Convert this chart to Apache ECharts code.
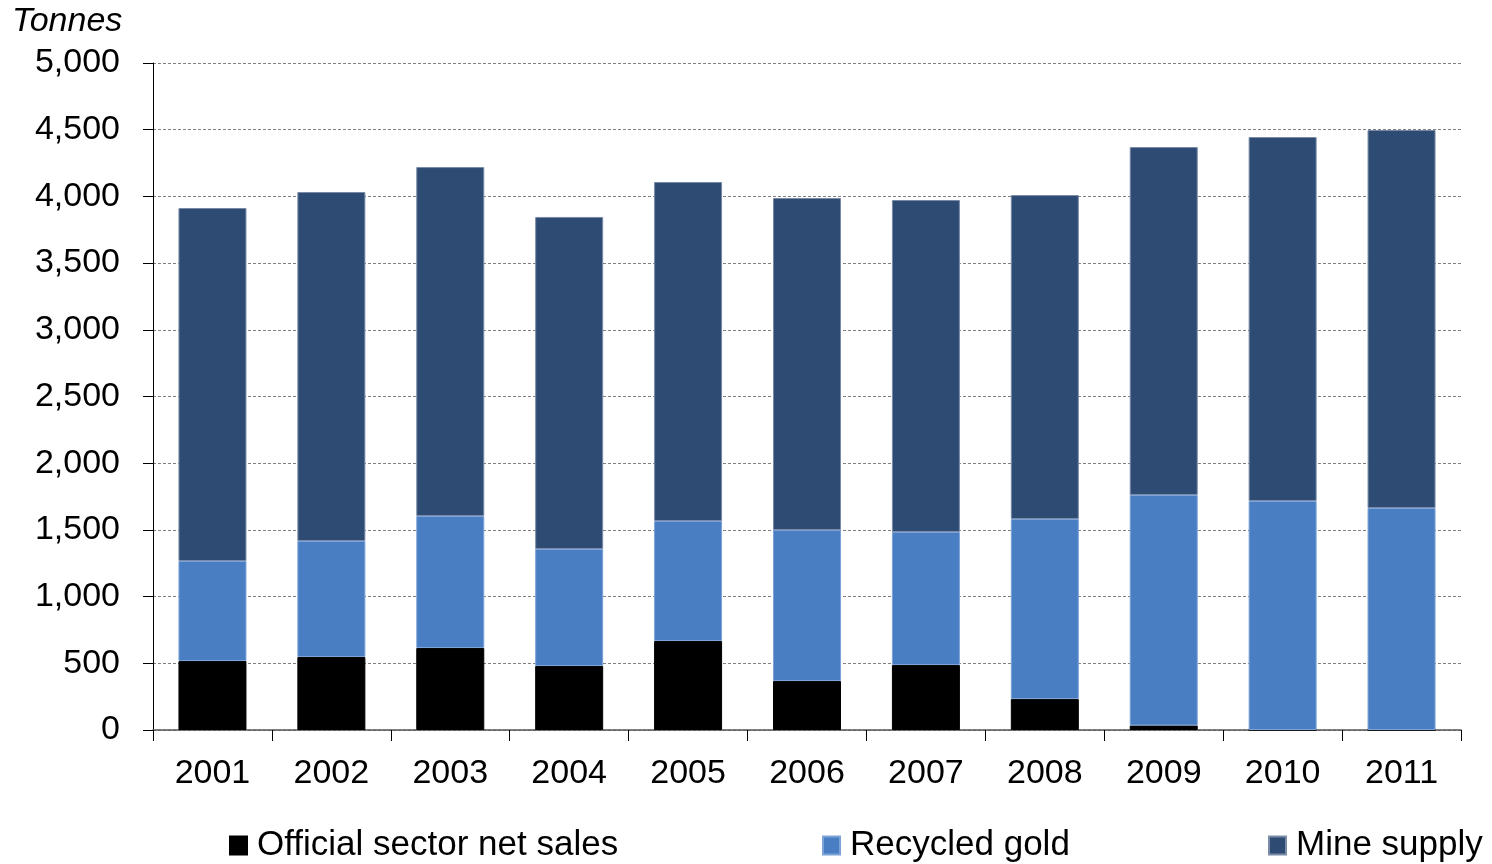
<!DOCTYPE html>
<html>
<head>
<meta charset="utf-8">
<title>Gold supply, 2001–2011</title>
<script src="https://cdn.jsdelivr.net/npm/echarts@6/dist/echarts.min.js"></script>
<style>
  html, body { margin: 0; padding: 0; background: #ffffff; }
  #chart { width: 1492px; height: 864px; }
</style>
</head>
<body>
<div id="chart"></div>
<script>
// Annual gold supply by source, tonnes
const years = ['2001', '2002', '2003', '2004', '2005', '2006', '2007', '2008', '2009', '2010', '2011'];
const officialSales = [517, 547, 615, 480, 667, 367, 487, 232, 34, 0, 0];
const recycledGold = [750, 870, 989, 877, 900, 1132, 997, 1350, 1728, 1717, 1664];
const mineSupply = [2646, 2616, 2616, 2489, 2541, 2489, 2489, 2428, 2608, 2728, 2834];
const yTicks = { min: 0, max: 5000, step: 500 };

const FONT = '"Liberation Sans", Arial, sans-serif';

const chart = echarts.init(document.getElementById('chart'), null, { renderer: 'canvas' });

function legendAt(name, left) {
  return {
    data: [name],
    left: left,
    top: 828,
    padding: 0,
    itemWidth: 17,
    itemHeight: 18,
    itemGap: 0,
    icon: 'rect',
    selectedMode: false,
    textStyle: { fontFamily: FONT, fontSize: 35, color: '#000', padding: [0, 0, 0, 5] }
  };
}

function barSeries(name, data, color, border) {
  return {
    name: name,
    type: 'bar',
    stack: 'supply',
    data: data,
    barWidth: 68,
    itemStyle: { color: color, borderColor: border, borderWidth: 1 },
    emphasis: { disabled: true }
  };
}

chart.setOption({
  animation: false,
  backgroundColor: '#ffffff',
  title: {
    text: 'Tonnes',
    left: 12,
    top: 5,
    padding: 0,
    textStyle: { fontFamily: FONT, fontSize: 34, fontStyle: 'italic', fontWeight: 'normal', color: '#000' }
  },
  legend: [
    legendAt('Official sector net sales', 229),
    legendAt('Recycled gold', 822),
    legendAt('Mine supply', 1268)
  ],
  grid: { left: 153, right: 31, top: 63, bottom: 134, containLabel: false },
  xAxis: {
    type: 'category',
    data: years,
    boundaryGap: true,
    axisLine: { show: true, lineStyle: { color: '#555', width: 1.5 } },
    axisTick: { show: true, length: 11, lineStyle: { color: '#000', width: 1 } },
    axisLabel: { margin: 27, fontFamily: FONT, fontSize: 34, color: '#000' },
    splitLine: { show: false }
  },
  yAxis: {
    type: 'value',
    min: yTicks.min,
    max: yTicks.max,
    interval: yTicks.step,
    axisLine: { show: true, lineStyle: { color: '#000', width: 1 } },
    axisTick: { show: true, length: 10, lineStyle: { color: '#000', width: 1 } },
    axisLabel: {
      margin: 33,
      fontFamily: FONT,
      fontSize: 34,
      color: '#000',
      padding: [3, 0, 0, 0],
      formatter: v => v.toLocaleString('en-US')
    },
    splitLine: { show: true, lineStyle: { color: '#808080', type: [3, 2], width: 1 } }
  },
  series: [
    barSeries('Official sector net sales', officialSales, '#000000', '#000000'),
    barSeries('Recycled gold', recycledGold, '#4A7EC2', '#7CA3D8'),
    barSeries('Mine supply', mineSupply, '#2E4B73', '#7A8BA8')
  ]
});
</script>
</body>
</html>
